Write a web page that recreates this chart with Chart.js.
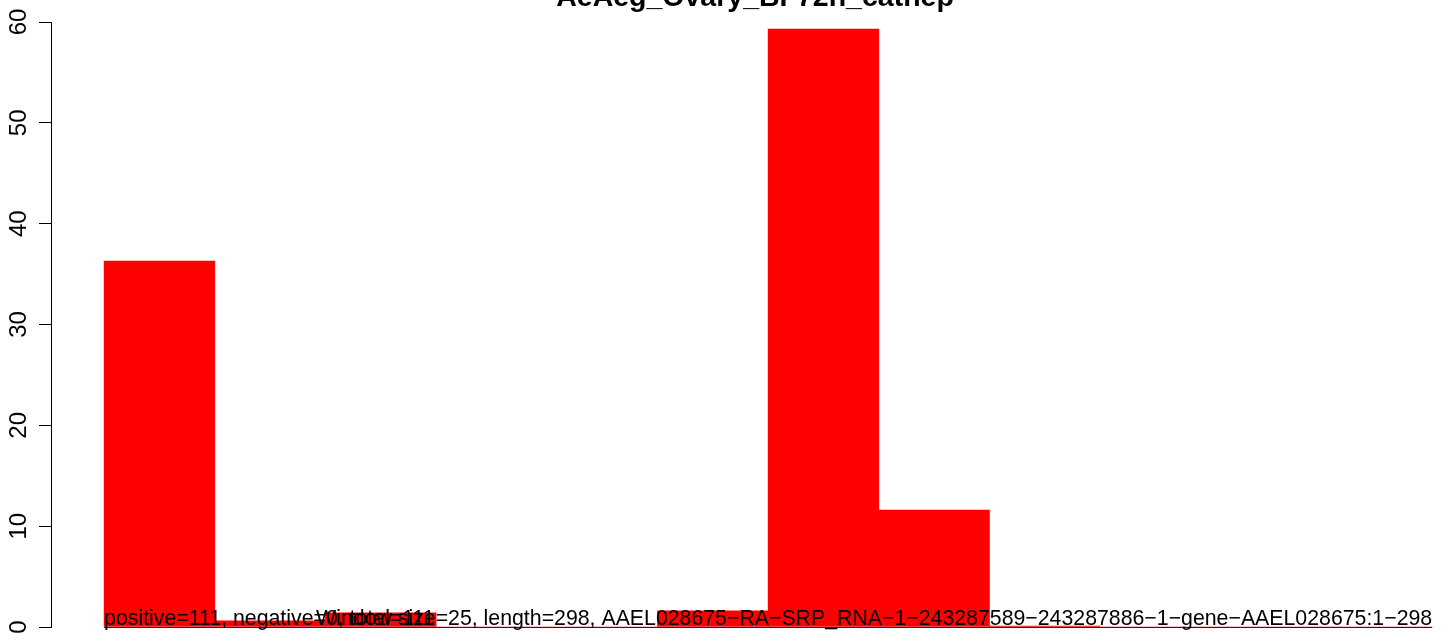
<!DOCTYPE html>
<html>
<head>
<meta charset="utf-8">
<script src="https://cdn.jsdelivr.net/npm/chart.js@4.4.1/dist/chart.umd.min.js"></script>
<style>
  html, body { margin: 0; padding: 0; background: #fff; }
  canvas { display: block; }
</style>
</head>
<body>
<canvas id="chart" width="1444" height="634"></canvas>
<script>
// values
const titleText = 'AeAeg_Ovary_BF72h_cathep';
const binCenters = [0.5, 1.5, 2.5, 3.5, 4.5, 5.5, 6.5, 7.5, 8.5, 9.5, 10.5, 11.5];
const counts = [36.3, 0.6, 1.4, 0, 0, 1.6, 59.3, 11.6, 0.08, 0, 0, 0];
const yTicks = [0, 10, 20, 30, 40, 50, 60];
const noteLeft = 'positive=111, negative=0, total=111';
const noteRight = 'Window size=25, length=298, AAEL028675\u2212RA\u2212SRP_RNA\u22121\u2212243287589\u2212243287886\u22121\u2212gene\u2212AAEL028675:1\u2212298';

const FONT = '"Liberation Sans", Arial, sans-serif';

const notesPlugin = {
    id: 'notes',
    beforeDatasetsDraw(chart) {
        const ctx = chart.ctx;
        const x = chart.scales.x;
        const y = chart.scales.y;
        const y0 = Math.round(y.getPixelForValue(0)) + 0.5;
        ctx.save();
        ctx.strokeStyle = '#222';
        ctx.lineWidth = 1;
        ctx.beginPath();
        ctx.moveTo(x.getPixelForValue(0), y0);
        ctx.lineTo(x.getPixelForValue(binCenters.length), y0);
        ctx.stroke();
        ctx.restore();
    },
    afterDatasetsDraw(chart) {
        const ctx = chart.ctx;
        const x = chart.scales.x;
        ctx.save();
        ctx.fillStyle = '#000';
        ctx.textBaseline = 'alphabetic';

        ctx.font = 'bold 28.5px ' + FONT;
        ctx.textAlign = 'center';
        ctx.fillText(titleText, 755, 6);

        ctx.font = '21.3px ' + FONT;
        ctx.textAlign = 'left';
        ctx.fillText(noteLeft, x.getPixelForValue(0), 625);
        ctx.textAlign = 'right';
        ctx.fillText(noteRight, x.getPixelForValue(binCenters.length), 625);
        ctx.restore();
    }
};

new Chart(document.getElementById('chart'), {
    type: 'bar',
    data: {
        datasets: [{
            data: binCenters.map((c, i) => ({ x: c, y: counts[i] })),
            backgroundColor: '#ff0000',
            borderWidth: 0,
            barPercentage: 1,
            categoryPercentage: 1
        }]
    },
    options: {
        responsive: false,
        devicePixelRatio: 1,
        animation: false,
        layout: { padding: { top: 22, bottom: 7, left: 0, right: 0 } },
        plugins: {
            legend: { display: false },
            tooltip: { enabled: false },
            title: { display: false }
        },
        scales: {
            x: {
                type: 'linear',
                offset: false,
                min: -0.48,
                max: 12.107,
                display: false
            },
            y: {
                min: 0,
                max: 60,
                afterBuildTicks: axis => {
                    axis.ticks = yTicks.map(v => ({ value: v }));
                },
                afterFit: axis => {
                    axis.width = 51;
                    axis.paddingTop = 0;
                    axis.paddingBottom = 0;
                },
                grid: {
                    drawOnChartArea: false,
                    drawTicks: true,
                    tickLength: 12,
                    color: '#000'
                },
                border: { display: true, color: '#000', width: 1 },
                ticks: {
                    color: '#000',
                    font: { family: FONT, size: 24 },
                    minRotation: 90,
                    maxRotation: 90,
                    crossAlign: 'center',
                    padding: 6
                }
            }
        }
    },
    plugins: [notesPlugin]
});
</script>
</body>
</html>
